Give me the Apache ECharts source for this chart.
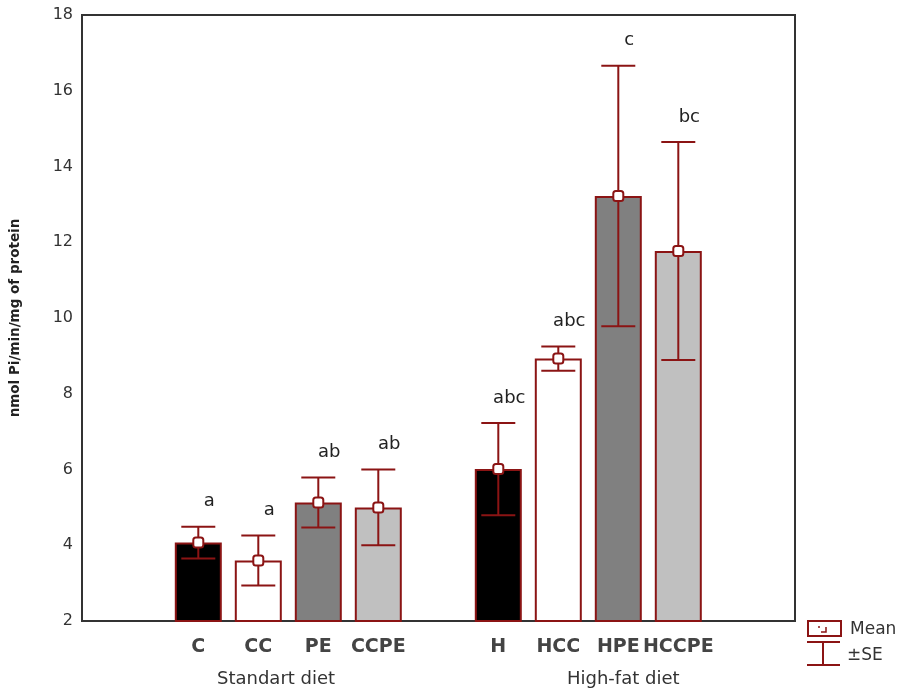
<!DOCTYPE html>
<html>
<head>
<meta charset="utf-8">
<script src="https://cdn.jsdelivr.net/npm/echarts@6/dist/echarts.min.js"></script>
<style>
	html, body { margin: 0; padding: 0; background: #fff; }
	#main { width: 907px; height: 697px; }
</style>
</head>
<body>
<div id="main"></div>
<script>
	// 数据 ---------------------------------------------
	var groups = ['C', 'CC', 'PE', 'CCPE', '', 'H', 'HCC', 'HPE', 'HCCPE'];
	var means = [4.07, 3.6, 5.13, 5.0, null, 6.01, 8.93, 13.22, 11.77];
	var seValues = [0.42, 0.66, 0.66, 1.0, null, 1.22, 0.32, 3.44, 2.88];
	var letters = ['a', 'a', 'ab', 'ab', '', 'abc', 'abc', 'c', 'bc'];
	var dietNames = ['Standart diet', 'High-fat diet'];
	var yMin = 2, yMax = 18, yStep = 2;
	var yTitle = 'nmol Pi/min/mg of protein';

	var barFills = ['#000000', '#ffffff', '#808080', '#c0c0c0', '#ffffff', '#000000', '#ffffff', '#808080', '#c0c0c0'];
	var dark = '#8b1414';
	var font = 'DejaVu Sans';

	// 组装 series 数据
	var barData = [];
	var errData = [];
	var meanData = [];
	for (var i = 0; i < groups.length; i++) {
		if (means[i] == null) {
			barData.push('-');
			continue;
		}
		barData.push({ value: means[i], itemStyle: { color: barFills[i] } });
		errData.push([i, means[i] - seValues[i], means[i] + seValues[i]]);
		meanData.push([i, means[i]]);
	}

	// 误差线
	var renderErr = function(params, api) {
		var idx = api.value(0);
		var lo = api.coord([idx, api.value(1)]);
		var hi = api.coord([idx, api.value(2)]);
		var half = 17;
		var st = { stroke: dark, lineWidth: 2 };
		return {
			type: 'group',
			children: [
				{ type: 'line', shape: { x1: lo[0], y1: lo[1], x2: hi[0], y2: hi[1] }, style: st },
				{ type: 'line', shape: { x1: hi[0] - half, y1: hi[1], x2: hi[0] + half, y2: hi[1] }, style: st },
				{ type: 'line', shape: { x1: lo[0] - half, y1: lo[1], x2: lo[0] + half, y2: lo[1] }, style: st },
				{
					type: 'text',
					style: {
						x: hi[0] + 11, y: hi[1] - 25, text: letters[idx],
						fill: '#222', font: '18px "' + font + '"',
						align: 'center', verticalAlign: 'middle'
					}
				}
			]
		};
	};

	var option = {
		animation: false,
		backgroundColor: '#fff',
		grid: [
			{ left: 80, top: 15, width: 715, height: 606, show: true, borderColor: '#333', borderWidth: 2, backgroundColor: 'transparent' },
			{ left: 168.3, top: 15, width: 540, height: 606 }
		],
		xAxis: [
			{ gridIndex: 0, type: 'value', show: false, min: 0, max: 1 },
			{
				gridIndex: 1, type: 'category', data: groups,
				axisLine: { show: false }, axisTick: { show: false },
				axisLabel: { interval: 0, margin: 17, color: '#444', fontFamily: font, fontSize: 19, fontWeight: 'bold' }
			}
		],
		yAxis: [
			{
				gridIndex: 0, type: 'value', min: yMin, max: yMax, interval: yStep,
				axisLine: { show: false }, axisTick: { show: false }, splitLine: { show: false },
				axisLabel: { margin: 9, color: '#333', fontFamily: font, fontSize: 16 },
				name: yTitle, nameLocation: 'middle', nameRotate: 90, nameGap: 60,
				nameTextStyle: { color: '#222', fontFamily: font, fontSize: 13.5, fontWeight: 'bold' }
			},
			{ gridIndex: 1, type: 'value', min: yMin, max: yMax, interval: yStep, show: false, splitLine: { show: false } }
		],
		series: [
			{
				name: 'bars', type: 'bar', xAxisIndex: 1, yAxisIndex: 1, barWidth: 47, z: 2,
				itemStyle: { borderColor: dark, borderWidth: 2 },
				data: barData
			},
			{
				name: '±SE', type: 'custom', xAxisIndex: 1, yAxisIndex: 1, z: 3,
				renderItem: renderErr, data: errData
			},
			{
				name: 'Mean', type: 'scatter', xAxisIndex: 1, yAxisIndex: 1, z: 4,
				symbol: 'roundRect', symbolSize: 10,
				itemStyle: { color: '#fff', borderColor: dark, borderWidth: 2, opacity: 1 },
				data: meanData
			}
		],
		graphic: [
			// 分组标题
			{ type: 'text', left: 217, top: 670, style: { text: dietNames[0], fill: '#333', font: '18px "' + font + '"' } },
			{ type: 'text', left: 567, top: 670, style: { text: dietNames[1], fill: '#333', font: '18px "' + font + '"' } },
			// 图例
			{ type: 'rect', shape: { x: 808, y: 621, width: 33, height: 15 }, style: { fill: '#fff', stroke: dark, lineWidth: 2 } },
			{ type: 'polyline', shape: { points: [[819, 626], [819, 628]] }, style: { stroke: dark, lineWidth: 1.5, fill: null } },
			{ type: 'polyline', shape: { points: [[826, 627], [826, 632], [821, 632]] }, style: { stroke: dark, lineWidth: 1.5, fill: null } },
			{ type: 'line', shape: { x1: 823, y1: 642, x2: 823, y2: 665 }, style: { stroke: dark, lineWidth: 2 } },
			{ type: 'line', shape: { x1: 807, y1: 642, x2: 840, y2: 642 }, style: { stroke: dark, lineWidth: 2 } },
			{ type: 'line', shape: { x1: 807, y1: 665, x2: 840, y2: 665 }, style: { stroke: dark, lineWidth: 2 } },
			{ type: 'text', left: 850, top: 621, style: { text: 'Mean', fill: '#333', font: '17px "' + font + '"' } },
			{ type: 'text', left: 847, top: 647, style: { text: '±SE', fill: '#333', font: '17px "' + font + '"' } }
		]
	};

	var myChart = echarts.init(document.getElementById('main'));
	myChart.setOption(option);
</script>
</body>
</html>
